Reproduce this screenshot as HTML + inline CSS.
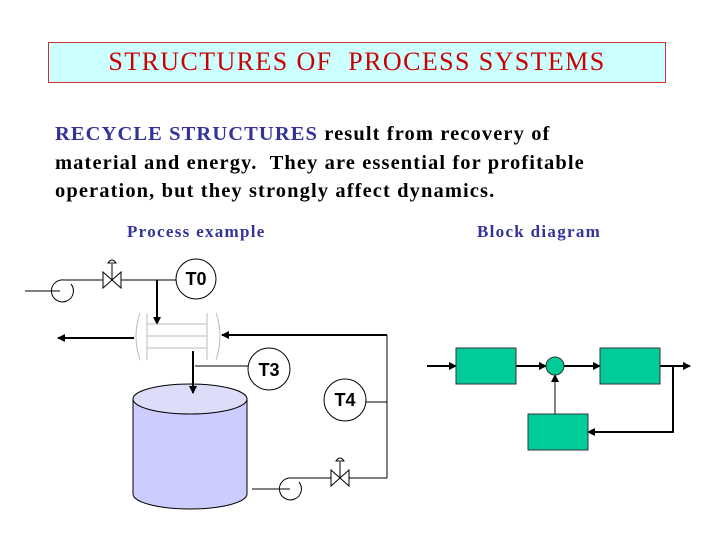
<!DOCTYPE html>
<html><head><meta charset="utf-8"><style>
body{margin:0;width:720px;height:540px;background:#fff;position:relative;overflow:hidden;font-family:"Liberation Serif",serif}
.t{position:absolute;white-space:nowrap}
</style></head><body>
<div style="position:absolute;left:48px;top:42px;width:616px;height:39px;background:#ccffff;border:1px solid #cc3333"></div>
<div class="t" style="left:48px;top:47px;width:618px;text-align:center;font-size:26px;letter-spacing:1.4px;color:#cc0000">STRUCTURES OF&nbsp; PROCESS SYSTEMS</div>
<div class="t" style="left:55px;top:120px;font-size:20.5px;line-height:28.5px;font-weight:bold;color:#000;letter-spacing:1.1px"><span style="color:#333399">RECYCLE STRUCTURES</span> result from recovery of<br>material and energy.&nbsp; They are essential for profitable<br>operation, but they strongly affect dynamics.</div>
<div class="t" style="left:127px;top:222px;font-size:17px;font-weight:bold;color:#333399;letter-spacing:1.3px">Process example</div>
<div class="t" style="left:477px;top:222px;font-size:17px;font-weight:bold;color:#333399;letter-spacing:1.3px">Block diagram</div>
<svg width="720" height="540" style="position:absolute;left:0;top:0" font-family="Liberation Sans, sans-serif">
<defs><marker id="a" markerWidth="8" markerHeight="8" refX="7" refY="4" orient="auto" markerUnits="userSpaceOnUse"><path d="M0,0L8,4L0,8z" fill="#000"/></marker></defs>
<g stroke="#000" stroke-width="1" fill="none">
<line x1="25" y1="291" x2="60" y2="291"/>
<path d="M71,284 A11,11 0 1 1 64,280 L73,280"/>
<line x1="73" y1="280" x2="103" y2="280"/>
<path d="M103,272 L121,288 L121,272 L103,288 Z" fill="#fff"/>
<line x1="112" y1="280" x2="112" y2="264"/><path d="M108,263 Q112,257 116,263 Z"/>
<line x1="121" y1="280" x2="157" y2="280"/>
<line x1="157" y1="280" x2="176" y2="280"/>
<circle cx="196" cy="279" r="20" fill="#fff"/>
</g>
<line x1="157" y1="280" x2="157" y2="324" stroke="#000" stroke-width="2" marker-end="url(#a)"/>
<g stroke="#bbb" stroke-width="1" fill="none">
<path d="M140,313 Q132,336 140,360"/><path d="M216,313 Q224,336 216,360"/>
<line x1="147" y1="313" x2="147" y2="360"/><line x1="207" y1="313" x2="207" y2="360"/>
<line x1="147" y1="324" x2="207" y2="324"/><line x1="147" y1="336" x2="207" y2="336"/><line x1="147" y1="348" x2="207" y2="348"/>
</g>
<line x1="134" y1="338" x2="58" y2="338" stroke="#000" stroke-width="2" marker-end="url(#a)"/>
<line x1="387" y1="335" x2="222" y2="335" stroke="#000" stroke-width="2" marker-end="url(#a)"/>
<g stroke="#000" stroke-width="1" fill="none">
<line x1="387" y1="335" x2="387" y2="478"/>
<line x1="195" y1="366" x2="248" y2="366"/>
<circle cx="269" cy="369" r="21" fill="#fff"/>
<line x1="366" y1="402" x2="387" y2="402"/>
<circle cx="345" cy="400" r="21" fill="#fff"/>
<path d="M133,399 L133,494 A57,15 0 0 0 247,494 L247,399" fill="#ccccff"/>
<ellipse cx="190" cy="399" rx="57" ry="15" fill="#ddddfa"/>
<line x1="252" y1="489" x2="290" y2="489"/>
<path d="M299,482 A11,11 0 1 1 292,478 L302,478"/>
<line x1="302" y1="478" x2="331" y2="478"/>
<path d="M331,470 L349,486 L349,470 L331,486 Z" fill="#fff"/>
<line x1="340" y1="478" x2="340" y2="462"/><path d="M336,461 Q340,455 344,461 Z"/>
<line x1="349" y1="478" x2="387" y2="478"/>
</g>
<line x1="193" y1="351" x2="193" y2="393" stroke="#000" stroke-width="2" marker-end="url(#a)"/>
<g font-weight="bold" font-size="18" text-anchor="middle" fill="#000">
<text x="196" y="285">T0</text><text x="269" y="376">T3</text><text x="345" y="406">T4</text>
</g>
<g stroke="#000" stroke-width="2" fill="none">
<line x1="427" y1="366" x2="456" y2="366" marker-end="url(#a)"/>
<line x1="516" y1="366" x2="546" y2="366" marker-end="url(#a)"/>
<line x1="564" y1="366" x2="600" y2="366" marker-end="url(#a)"/>
<line x1="660" y1="366" x2="690" y2="366" marker-end="url(#a)"/>
<polyline points="673,366 673,432 588,432" marker-end="url(#a)"/>
<line x1="555" y1="414" x2="555" y2="375" stroke-width="1" marker-end="url(#a)"/>
</g>
<g fill="#00cc99" stroke="#333" stroke-width="1">
<rect x="456" y="348" width="60" height="36"/>
<rect x="600" y="348" width="60" height="36"/>
<rect x="528" y="414" width="60" height="36"/>
<circle cx="555" cy="366" r="9"/>
</g>
</svg>
</body></html>
